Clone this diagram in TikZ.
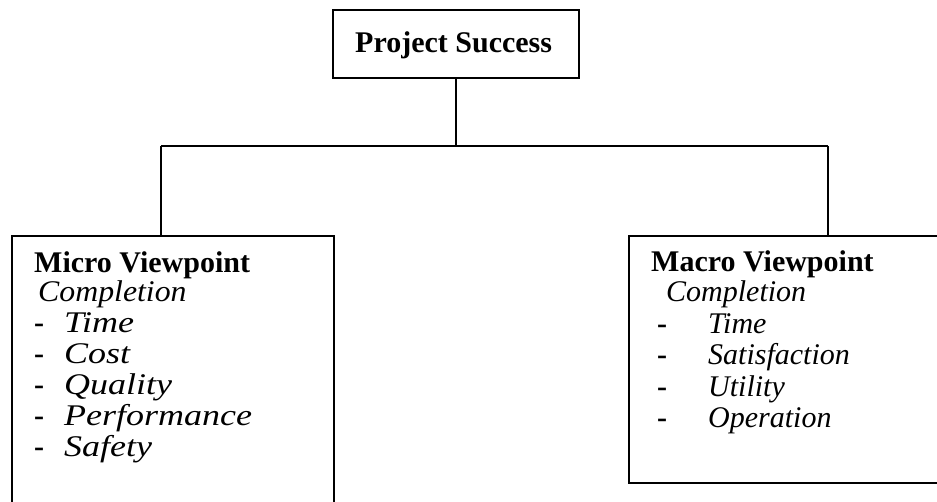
\documentclass[tikz,border=0pt]{standalone}
\usepackage{fontspec}
\usepackage{graphicx}
\setmainfont{Liberation Serif}
\begin{document}
\begin{tikzpicture}[x=1pt,y=1pt,
  frame/.style={draw=black, line width=1.8pt, fill=none, inner sep=0pt},
  wire/.style={draw=black, line width=1.8pt},
  head/.style={anchor=base west, inner sep=0pt, font=\fontsize{30}{36}\selectfont\bfseries},
  entry/.style={anchor=base west, inner sep=0pt, font=\fontsize{30}{36}\selectfont\itshape},
  dashmark/.style={anchor=base west, inner sep=0pt, font=\fontsize{30}{36}\selectfont\bfseries}]
\useasboundingbox (0,0) rectangle (937,502);
\clip (0,0) rectangle (937,502);

% boxes
\node[frame, minimum width=246pt, minimum height=68pt] (top) at (456,458) {};
\node[frame, minimum width=322pt, minimum height=294pt] (micro) at (173,119) {};
\node[frame, minimum width=326pt, minimum height=247pt] (macro) at (792,142.5) {};

% tree connectors
\coordinate (jl) at (161,356);
\coordinate (jr) at (828,356);
\draw[wire] (top.south) -- (top.south |- jl);
\draw[wire] (jl) -- (jr);
\draw[wire] (jl) -- (jl |- micro.north);
\draw[wire] (jr) -- (jr |- macro.north);

% root label
\node[head] (ttl) at (355,449) {Project Success};

% micro viewpoint list (wider set italics)
\node[head]  (mh) at (34,229) {Micro Viewpoint};
\node[entry] (mc) at (38,200) {\scalebox{1.06}[1]{Completion}};
\foreach \t [count=\i] in {Time,Cost,Quality,Performance,Safety}{
  \node[dashmark] (md\i) at (34,200-31*\i) {-};
  \node[entry] (mi\i) at (64,200-31*\i) {\scalebox{1.2}[1]{\t}};
}

% macro viewpoint list
\node[head]  (ah) at (651,230) {Macro Viewpoint};
\node[entry] (ac) at (666,200) {Completion};
\foreach \t [count=\i] in {Time,Satisfaction,Utility,Operation}{
  \node[dashmark] (ad\i) at (657,200-31.5*\i) {-};
  \node[entry] (ai\i) at (708,200-31.5*\i) {\t};
}
\end{tikzpicture}
\end{document}
